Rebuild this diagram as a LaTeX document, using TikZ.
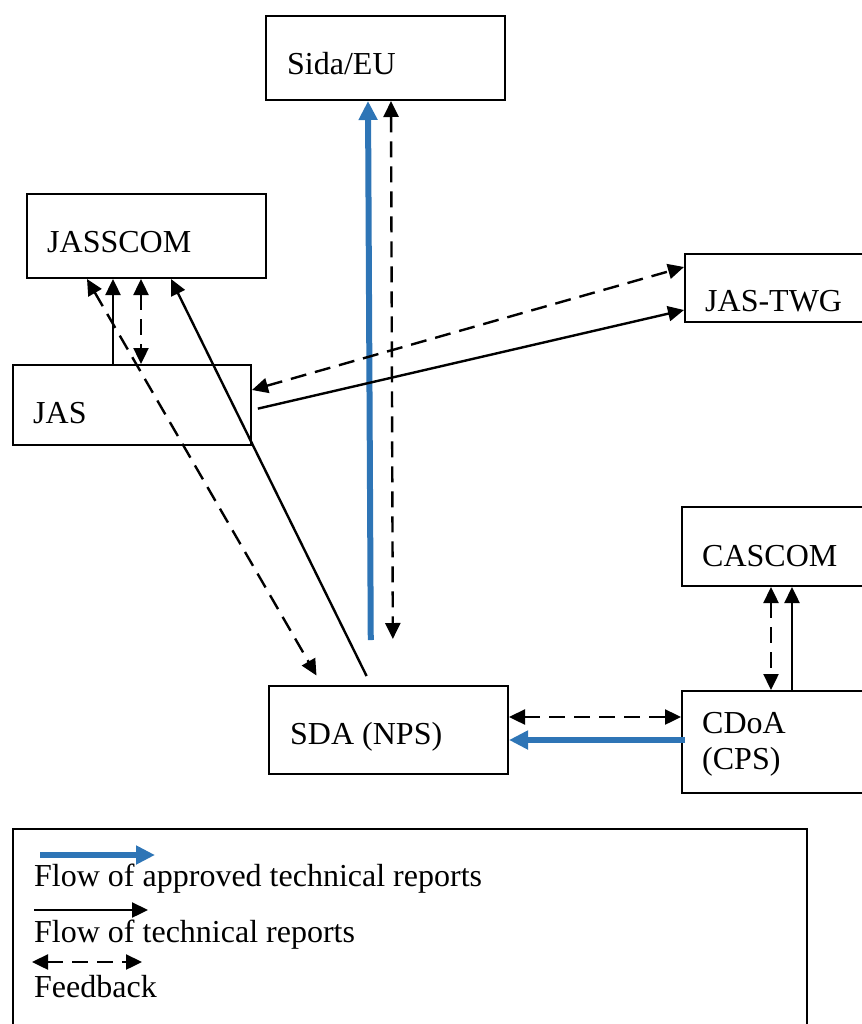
\documentclass[tikz,border=0pt]{standalone}
\usepackage{fontspec}
\setmainfont{Liberation Serif}
\usepackage{tikz}
\usetikzlibrary{arrows.meta}
\definecolor{approvedblue}{RGB}{46,117,182}

\begin{document}
\begin{tikzpicture}[x=1pt,y=-1pt,
    >={Triangle[length=16pt,width=15pt]},
    box/.style={draw,line width=2pt,anchor=north west,inner sep=0pt},
    txt/.style={anchor=base west,inner sep=0pt,font=\fontsize{32}{37}\selectfont},
    report/.style={line width=2.4pt,->},
    fb/.style={line width=2.4pt,<->,dash pattern=on 16pt off 9pt},
    approved/.style={line width=6pt,draw=approvedblue,-{Triangle[length=19pt,width=18pt,fill=approvedblue]}}]
        \useasboundingbox (0,0) rectangle (861,1024);

        \node [box,minimum width=239pt,minimum height=84pt] (sida) at (265,15) {};
        \node [box,minimum width=239pt,minimum height=84pt] (jasscom) at (26,193) {};
        \node [box,minimum width=200pt,minimum height=68pt] (jastwg) at (684,253) {};
        \node [box,minimum width=238pt,minimum height=80pt] (jas) at (12,364) {};
        \node [box,minimum width=200pt,minimum height=79pt] (cascom) at (681,506) {};
        \node [box,minimum width=239pt,minimum height=88pt] (sda) at (268,685) {};
        \node [box,minimum width=200pt,minimum height=102pt] (cdoa) at (681,690) {};
        \node [box,minimum width=794pt,minimum height=220pt] (legend) at (12,828) {};

        \node [txt] (sidatext) at (287,75) {Sida/EU};
        \node [txt] (jasscomtext) at (47,252) {JASSCOM};
        \node [txt] (jastwgtext) at (705,311) {JAS-TWG};
        \node [txt] (jastext) at (33,423) {JAS};
        \node [txt] (cascomtext) at (702,566) {CASCOM};
        \node [txt] (sdatext) at (290,744) {SDA (NPS)};
        \node [txt] (cdoatext) at (702,733) {CDoA};
        \node [txt] (cpstext) at (702,769) {(CPS)};

        \draw [approved,shorten <=45pt] (sda.north -| 371,0) -- (sida.south -| 368,0);
        \draw [fb,shorten >=46pt] (sida.south -| 391,0) -- (sda.north -| 393,0);
        \draw [report] (jas.north -| 113,0) -- (jasscom.south -| 113,0);
        \draw [fb] (jasscom.south -| 141,0) -- (jas.north -| 141,0);
        \draw [fb,shorten >=11pt] (jasscom.south -| 87,0) -- (sda.north -| 322,0);
        \draw [report,shorten <=10pt] (sda.north -| 371,0) -- (jasscom.south -| 171,0);
        \draw [report,shorten <=6pt] (jas.east |- 0,410) -- (jastwg.west |- 0,310);
        \draw [fb] (jas.east |- 0,390) -- (jastwg.west |- 0,267);
        \draw [fb] (cascom.south -| 771,0) -- (cdoa.north -| 771,0);
        \draw [report] (cdoa.north -| 792,0) -- (cascom.south -| 792,0);
        \draw [fb] (sda.east |- 0,717) -- (cdoa.west |- 0,717);
        \draw [approved,shorten <=-4pt] (cdoa.west |- 0,740) -- (sda.east |- 0,740);

        \coordinate (keyblueA) at (40,855);
        \coordinate (keyblueB) at (155,855);
        \coordinate (keyblackA) at (34,910);
        \coordinate (keyblackB) at (148,910);
        \coordinate (keyfbA) at (32,962);
        \coordinate (keyfbB) at (142,962);
        \draw [approved] (keyblueA) -- (keyblueB);
        \node [txt] (keyapproved) at (34,886) {Flow of approved technical reports};
        \draw [report] (keyblackA) -- (keyblackB);
        \node [txt] (keyreports) at (34,942) {Flow of technical reports};
        \draw [fb] (keyfbA) -- (keyfbB);
        \node [txt] (keyfeedback) at (34,997) {Feedback};
      \end{tikzpicture}
\end{document}
